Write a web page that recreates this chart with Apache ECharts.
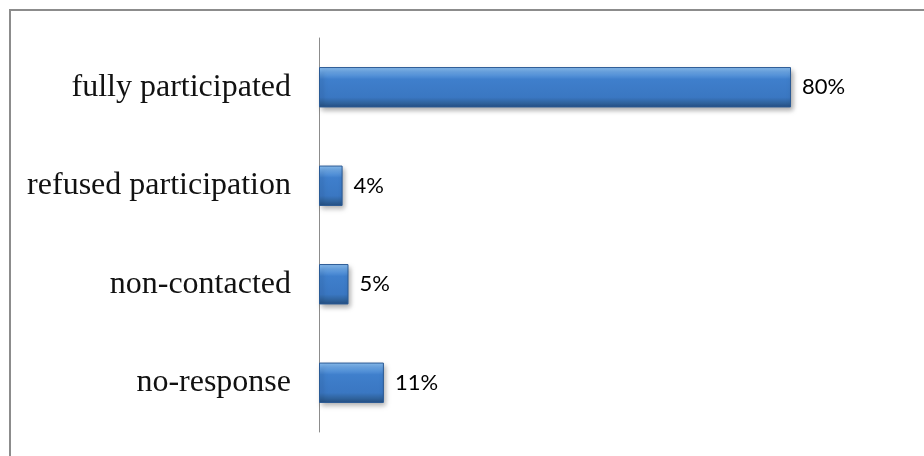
<!DOCTYPE html>
<html>
<head>
<meta charset="utf-8">
<script src="https://cdn.jsdelivr.net/npm/echarts@6/dist/echarts.min.js"></script>
<style>
  html, body { margin: 0; padding: 0; background: #fff; }
  #frame { position: absolute; left: 9px; top: 9px; width: 930px; height: 460px;
           border-left: 2px solid #8c8c8c; border-top: 2px solid #8c8c8c; box-sizing: border-box; }
  #chart { position: absolute; left: 0; top: 0; width: 924px; height: 456px; }
</style>
</head>
<body>
<div id="frame"></div>
<div id="chart"></div>
<script>
// Survey outcome shares (percent), listed bottom to top as drawn on the category axis
const categories = ['no-response', 'non-contacted', 'refused participation', 'fully participated'];
const shares = [11, 5, 4, 80];

const chart = echarts.init(document.getElementById('chart'), null, { renderer: 'canvas' });

const barFill = new echarts.graphic.LinearGradient(0, 0, 0, 1, [
  { offset: 0, color: '#8cc0f2' },
  { offset: 0.12, color: '#6aa6e6' },
  { offset: 0.3, color: '#3f7fcc' },
  { offset: 0.75, color: '#3a77c2' },
  { offset: 0.88, color: '#30649f' },
  { offset: 1, color: '#254f82' }
]);

chart.setOption({
  animation: false,
  grid: { left: 319, right: 15, top: 38, bottom: 24, containLabel: false },
  xAxis: {
    type: 'value', min: 0, max: 100, show: false
  },
  yAxis: {
    type: 'category',
    data: categories,
    axisLine: { show: true, lineStyle: { color: '#8c8c8c', width: 1 } },
    axisTick: { show: false },
    axisLabel: {
      margin: 28,
      color: '#111',
      fontFamily: '"Liberation Serif", "DejaVu Serif", serif',
      fontSize: 32
    }
  },
  series: [{
    type: 'bar',
    data: shares,
    barWidth: '41%',
    itemStyle: {
      color: barFill,
      borderColor: '#2a5a94',
      borderWidth: 1,
      shadowColor: 'rgba(0,0,0,0.35)',
      shadowBlur: 5,
      shadowOffsetX: 2,
      shadowOffsetY: 3
    },
    label: {
      show: true,
      position: 'right',
      distance: 11,
      formatter: '{c}%',
      color: '#000',
      fontFamily: 'Lato, "Open Sans", sans-serif',
      fontSize: 22
    }
  }]
});
</script>
</body>
</html>
